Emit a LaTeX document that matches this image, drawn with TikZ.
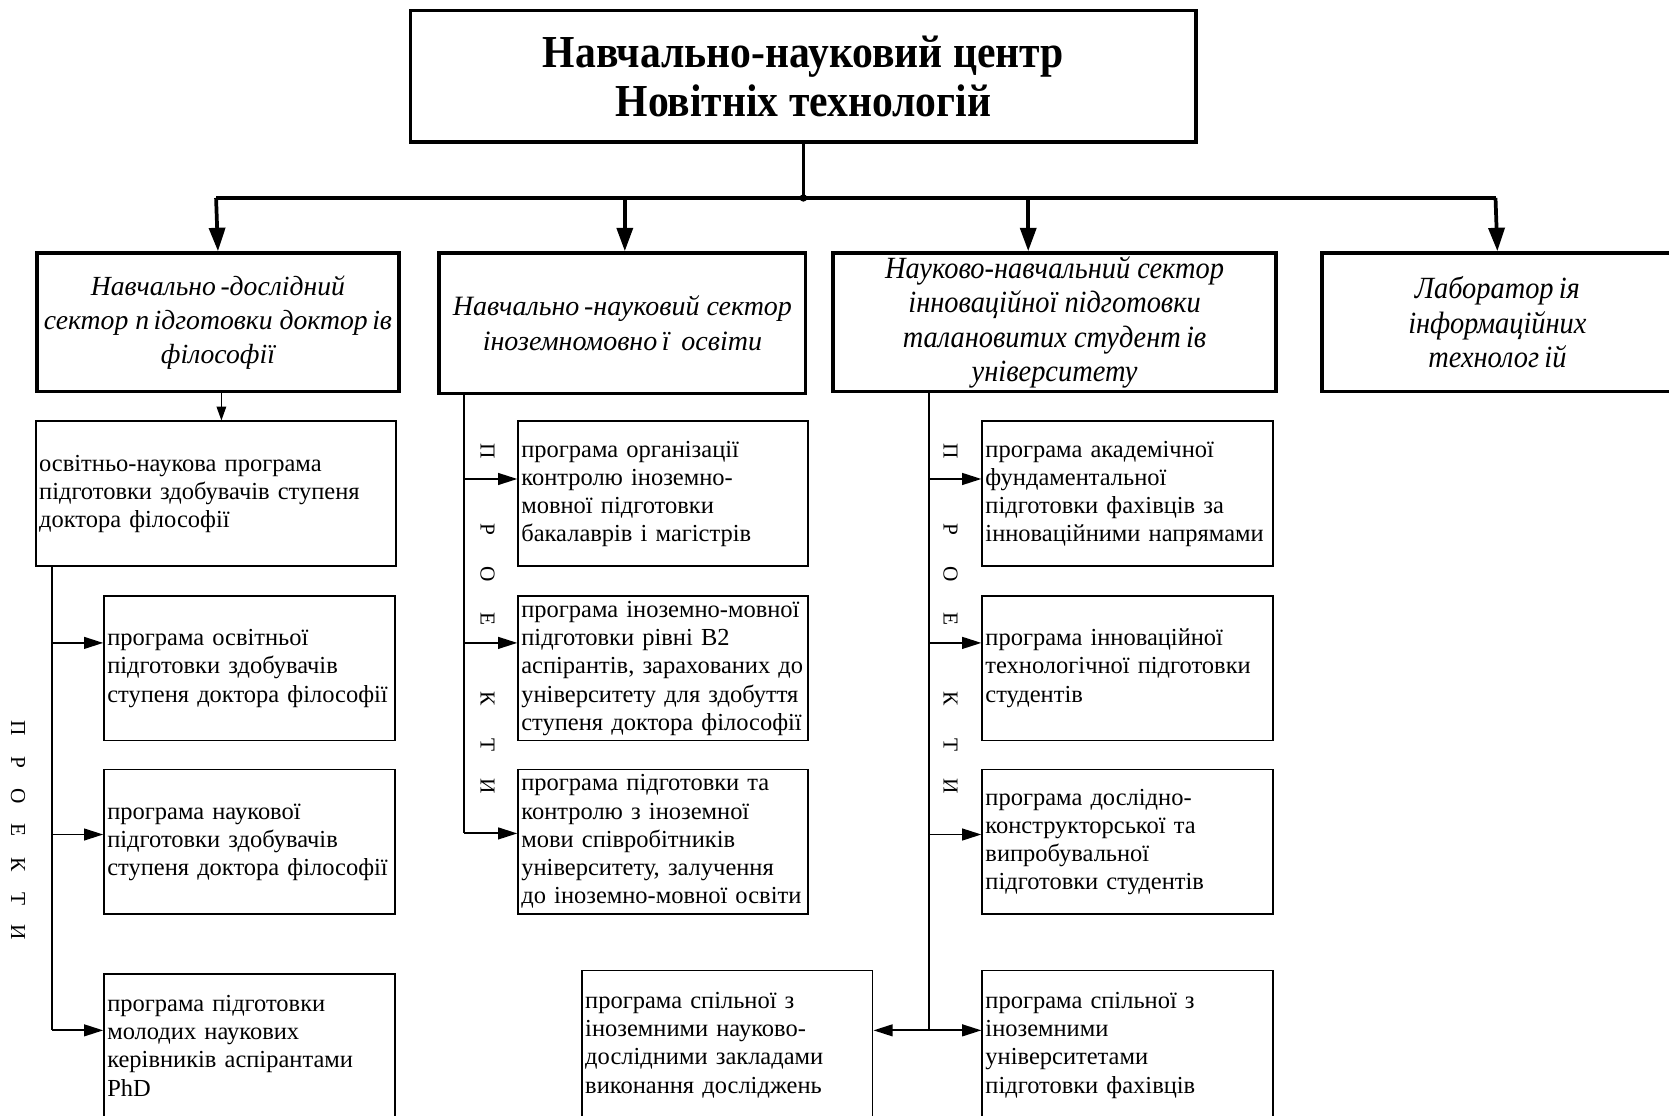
\documentclass[tikz,border=0pt]{standalone}
\usepackage{fontspec}
\setmainfont{Liberation Serif}
\newfontfamily\titlefont[FakeStretch=0.91]{Liberation Serif}
\newfontfamily\narrowfont[FakeStretch=0.92]{Liberation Serif}
\usetikzlibrary{arrows.meta}
\newcommand\lns[1]{\begin{tabular}{@{}l@{}}#1\end{tabular}}
\tikzset{
  thickbox/.style={draw, line width=3.5pt, rectangle, anchor=north west, inner sep=2pt, align=center},
  progbox/.style={draw, line width=1.6pt, rectangle, anchor=north west, inner xsep=3pt, inner ysep=0pt,
     align=left, minimum width=273pt, minimum height=136pt, text width=267pt,
     font=\fontsize{23}{26.5}\selectfont},
  thickline/.style={line width=3.5pt},
  conn/.style={line width=1.8pt},
  bigarrow/.style={line width=3.5pt, -{Triangle[length=22pt,width=15pt]}},
  progarrow/.style={line width=1.8pt, -{Triangle[length=18pt,width=11pt]}},
  smallarrow/.style={line width=1.2pt, -{Triangle[length=13pt,width=9pt]}},
  vtext/.style={rotate=-90, inner sep=0pt, anchor=west, font=\fontsize{20}{20}\selectfont}
}
\begin{document}
\begin{tikzpicture}[x=1pt,y=-1pt]
\useasboundingbox (0,0) rectangle (1568,1048);
\fill[white] (0,0) rectangle (1568,1048);

% title
\node[thickbox, minimum width=738pt, minimum height=124pt,
      font=\titlefont\bfseries\fontsize{43}{46}\selectfont] (top) at (384,8)
      {Навчально-науковий центр\\Новітніх технологій};

% sectors
\node[thickbox, inner xsep=0pt, minimum width=340pt, minimum height=130pt,
      font=\itshape\fontsize{26}{32}\selectfont] (s1) at (33,236)
      {Навчально\,-дослідний\\сектор п\,ідготовки доктор\,ів\\філософії};
\node[thickbox, minimum width=344pt, minimum height=132pt,
      font=\itshape\fontsize{26.3}{33}\selectfont] (s2) at (411,236)
      {Навчально\,-науковий сектор\\іноземномовно\,ї\ \,освіти};
\node[thickbox, inner ysep=0pt, minimum width=416pt, minimum height=130pt,
      font=\narrowfont\itshape\fontsize{29}{32.5}\selectfont] (s3) at (781,236)
      {Науково-навчальний сектор\\інноваційної підготовки\\талановитих студент\,ів\\університету};
\node[thickbox, minimum width=330pt, minimum height=130pt,
      font=\narrowfont\itshape\fontsize{29}{32.5}\selectfont] (s4) at (1240,236)
      {Лаборатор\,ія\\інформаційних\\технолог\,ій};

% left column
\node[progbox, minimum width=338pt, text width=332pt] (l0) at (33,395)
  {\lns{освітньо-наукова програма\\підготовки здобувачів ступеня\\доктора філософії}};
\node[progbox] (l1) at (97,559)
  {\lns{програма освітньої\\підготовки здобувачів\\ступеня доктора філософії}};
\node[progbox] (l2) at (97,722)
  {\lns{програма наукової\\підготовки здобувачів\\ступеня доктора філософії}};
\node[progbox, minimum height=140pt] (l3) at (97,914)
  {\lns{програма підготовки\\молодих наукових\\керівників аспірантами\\PhD}};

% middle column
\node[progbox, minimum width=272pt, text width=266pt] (m1) at (486,395)
  {\lns{програма організації\\контролю іноземно-\\мовної підготовки\\бакалаврів і магістрів}};
\node[progbox, minimum width=272pt, text width=266pt] (m2) at (486,559)
  {\lns{програма іноземно-мовної\\підготовки рівні В2\\аспірантів, зарахованих до\\університету для здобуття\\ступеня доктора філософії}};
\node[progbox, minimum width=272pt, text width=266pt] (m3) at (486,722)
  {\lns{програма підготовки та\\контролю з іноземної\\мови співробітників\\університету, залучення\\до іноземно-мовної освіти}};

% right column
\node[progbox] (r1) at (922,395)
  {\lns{програма академічної\\фундаментальної\\підготовки фахівців за\\інноваційними напрямами}};
\node[progbox] (r2) at (922,559)
  {\lns{програма інноваційної\\технологічної підготовки\\студентів}};
\node[progbox] (r3) at (922,722)
  {\lns{програма дослідно-\\конструкторської та\\випробувальної\\підготовки студентів}};
\node[progbox, minimum height=140pt] (r4) at (922,911)
  {\lns{програма спільної з\\іноземними\\університетами\\підготовки фахівців}};
\node[progbox, minimum height=140pt] (b) at (546,911)
  {\lns{програма спільної з\\іноземними науково-\\дослідними закладами\\виконання досліджень}};

% vertical labels
\node[vtext] (pl) at (17,684) {\makebox[0pt]{П}\hspace{32pt}\makebox[0pt]{Р}\hspace{32pt}\makebox[0pt]{О}\hspace{32pt}\makebox[0pt]{Е}\hspace{32pt}\makebox[0pt]{К}\hspace{32pt}\makebox[0pt]{Т}\hspace{32pt}\makebox[0pt]{И}};
\node[vtext] (pm) at (458,424) {\makebox[0pt]{П}\hspace{73pt}\makebox[0pt]{Р}\hspace{42pt}\makebox[0pt]{О}\hspace{42pt}\makebox[0pt]{Е}\hspace{75pt}\makebox[0pt]{К}\hspace{44pt}\makebox[0pt]{Т}\hspace{38pt}\makebox[0pt]{И}};
\node[vtext] (pr) at (893,424) {\makebox[0pt]{П}\hspace{73pt}\makebox[0pt]{Р}\hspace{42pt}\makebox[0pt]{О}\hspace{42pt}\makebox[0pt]{Е}\hspace{75pt}\makebox[0pt]{К}\hspace{44pt}\makebox[0pt]{Т}\hspace{38pt}\makebox[0pt]{И}};

% top connectors
\coordinate (j) at (top.south |- 0,186);
\coordinate (bA) at (203,186);
\coordinate (bB) at (587,186);
\coordinate (bC) at (966,186);
\coordinate (bD) at (1405,186);
\draw[thickline] (top.south) -- (j);
\draw[thickline] (bA) -- (bD);
\fill (j) circle (3.5pt);
\draw[bigarrow] (bA) -- (s1.north);
\draw[bigarrow] (bB) -- (bB |- s2.north);
\draw[bigarrow] (bC) -- (bC |- s3.north);
\draw[bigarrow] (bD) -- (s4.north);

% left
\draw[smallarrow] (s1.south -| 208,0) -- (l0.north -| 208,0);
\coordinate (lv) at (49,968);
\draw[conn] (l0.south -| lv) -- (lv);
\draw[progarrow] (lv |- 0,604) -- (l1.west |- 0,604);
\draw[progarrow] (lv |- 0,784) -- (l2.west |- 0,784);
\draw[progarrow] (lv) -- (l3.west |- lv);

% middle
\coordinate (mv) at (436,783);
\draw[conn] (s2.south -| mv) -- (mv);
\draw[progarrow] (mv |- 0,450) -- (m1.west |- 0,450);
\draw[progarrow] (mv |- 0,604) -- (m2.west |- 0,604);
\draw[progarrow] (mv) -- (m3.west |- mv);

% right
\coordinate (rv) at (873,968);
\draw[conn] (s3.south -| rv) -- (rv);
\draw[progarrow] (rv |- 0,450) -- (r1.west |- 0,450);
\draw[progarrow] (rv |- 0,604) -- (r2.west |- 0,604);
\draw[progarrow] (rv |- 0,784) -- (r3.west |- 0,784);
\draw[progarrow] (rv) -- (r4.west |- rv);
\draw[progarrow] (rv) -- (b.east |- rv);
\end{tikzpicture}
\end{document}
